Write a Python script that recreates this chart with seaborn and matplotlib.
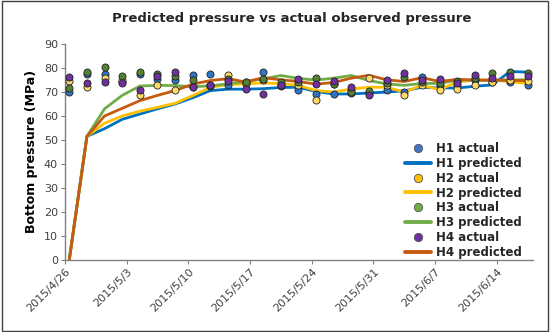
import numpy as np
import pandas as pd
import matplotlib
matplotlib.use("Agg")
import matplotlib.pyplot as plt
import matplotlib.dates as mdates
from matplotlib.lines import Line2D
import seaborn as sns

# ---------------- data ----------------
start = pd.Timestamp("2015-04-26 12:00")
n_points = 27
dates = [start + pd.Timedelta(days=2 * i) for i in range(n_points)]

h1_pred = [0, 51.5, 54.7, 58.6, 60.8, 63, 65, 67.6, 70.6, 71.2, 71.2, 71.4, 71.9, 72, 70.2, 69.2, 69.2,
           69.6, 70, 70.5, 72, 71.7, 71.7, 72.4, 73, 78.6, 78.3]
h2_pred = [0, 51.5, 57, 60, 62, 63.6, 65.3, 68.5, 72, 73.1, 73.4, 73.8, 73.5, 72.8, 70.6, 70, 71.3,
           72, 72, 70, 72.8, 71, 74.2, 75, 75, 74.3, 73.6]
h3_pred = [0, 51.5, 63, 68.6, 72.5, 72.8, 72.7, 72.2, 72.6, 73.4, 74.4, 75.5, 76.9, 75.7, 75, 75.8, 76.9,
           74.8, 73.4, 72.8, 73.6, 73.6, 75, 75, 74.8, 75, 75.2]
h4_pred = [0, 51.5, 60, 63.2, 66.4, 68.6, 70.6, 73.3, 74.8, 75.6, 74.2, 76, 75.1, 74.4, 73.3, 74, 75.8,
           77, 75.1, 74.4, 76, 74.4, 75.3, 75, 75, 75, 74.7]

h1_act = [70.2, 77.5, 77.5, 74, 77.5, 75.5, 75.2, 77.2, 77.5, 73, 74, 78.3, 72.5, 70.8, 69.2, 69.2, 69.4,
          69.5, 71, 70.2, 76.2, 73, 73, 75.2, 74.4, 74.4, 73]
h2_act = [74.6, 72.2, 75.8, 75, 68.8, 73, 70.8, 72.3, 72.8, 77, 73.5, 75, 73, 73, 66.5, 73.5, 71,
          75.9, 73, 68.8, 73, 70.7, 71.3, 73, 74, 75, 74.8]
h3_act = [71.6, 78.3, 80.4, 76.7, 78.3, 77.5, 76.8, 75.1, 72.5, 75.4, 74.2, 75.5, 74.2, 74, 75.8, 73.4, 70.2,
          70.6, 73.8, 76.2, 74.1, 73.8, 74.5, 76, 78, 78.5, 78]
h4_act = [76.3, 73.9, 74, 73.8, 70.8, 76.6, 78.4, 72.1, 73.1, 74.6, 71.4, 69.1, 72.8, 75.3, 73.4, 74.8, 72,
          68.6, 75.2, 78, 75.2, 75.5, 73.8, 77.3, 75.8, 76.9, 76.9]

wells = ["H1", "H2", "H3", "H4"]
preds = [h1_pred, h2_pred, h3_pred, h4_pred]
acts = [h1_act, h2_act, h3_act, h4_act]

line_colors = ["#0070C0", "#FFC000", "#70AD47", "#C55A11"]
marker_colors = ["#2E75C6", "#FFD966", "#548235", "#7030A0"]
legend_marker_colors = ["#4472C4", "#FFC000", "#70AD47", "#7030A0"]

rows = []
for w, p, a in zip(wells, preds, acts):
    for d, pv, av in zip(dates, p, a):
        rows.append({"date": d, "well": w, "pred": pv, "act": av})
df = pd.DataFrame(rows)

# ---------------- plot ----------------
sns.set_theme(style="white")
plt.rcParams["font.family"] = ["DejaVu Sans"]

fig = plt.figure(figsize=(5.5, 3.32), dpi=100)
ax = fig.add_axes([0.118, 0.218, 0.851, 0.649])

for i, w in enumerate(wells):
    sub = df[df["well"] == w]
    sns.lineplot(data=sub, x="date", y="pred", color=line_colors[i], linewidth=2.0,
                 ax=ax, zorder=2, legend=False)
for i, w in enumerate(wells):
    sub = df[df["well"] == w]
    sns.scatterplot(data=sub, x="date", y="act", color=marker_colors[i], s=26,
                    edgecolor="#222222", linewidth=0.6, ax=ax, zorder=3, legend=False)

ax.set_ylim(0, 90)
ax.set_yticks(range(0, 91, 10))
ax.set_xlim(pd.Timestamp("2015-04-26"), pd.Timestamp("2015-04-26") + pd.Timedelta(days=53.1))
tick_dates = [pd.Timestamp("2015-04-26") + pd.Timedelta(days=7 * k) for k in range(8)]
ax.set_xticks(tick_dates)
ax.xaxis.set_major_formatter(
    matplotlib.ticker.FuncFormatter(lambda v, pos: (lambda d: f"{d.year}/{d.month}/{d.day}")(mdates.num2date(v))))
plt.setp(ax.get_xticklabels(), rotation=45, ha="right", rotation_mode="anchor")

for s in ["top", "right"]:
    ax.spines[s].set_visible(False)
for s in ["left", "bottom"]:
    ax.spines[s].set_color("#808080")
    ax.spines[s].set_linewidth(1.0)
ax.tick_params(axis="both", which="major", direction="out", length=3, width=0.8,
               color="#808080", labelsize=8, labelcolor="#404040", pad=2)
ax.tick_params(axis="x", bottom=True)
ax.tick_params(axis="y", left=True)

ax.set_xlabel("")
ax.set_ylabel("Bottom pressure (MPa)", fontsize=9, fontweight="bold", color="black", labelpad=4)
fig.suptitle("Predicted pressure vs actual observed pressure", fontsize=9.5, fontweight="bold",
             x=0.53, y=0.965)

handles = []
labels = []
for i, w in enumerate(wells):
    handles.append(Line2D([], [], linestyle="none", marker="o", markersize=6,
                          markerfacecolor=legend_marker_colors[i], markeredgecolor="#555555",
                          markeredgewidth=0.6))
    labels.append(f"{w} actual")
    handles.append(Line2D([], [], color=line_colors[i], linewidth=2.8))
    labels.append(f"{w} predicted")
leg = ax.legend(handles, labels, loc="lower right", bbox_to_anchor=(1.0, -0.045), frameon=False,
                handlelength=2.2, handletextpad=0.45, labelspacing=0.15,
                prop={"weight": "bold", "size": 8.5})

border = plt.Rectangle((0.003, 0.003), 0.994, 0.994, transform=fig.transFigure, fill=False,
                       edgecolor="#404040", linewidth=1.0)
fig.patches.append(border)

fig.savefig("out.png", dpi=100)
